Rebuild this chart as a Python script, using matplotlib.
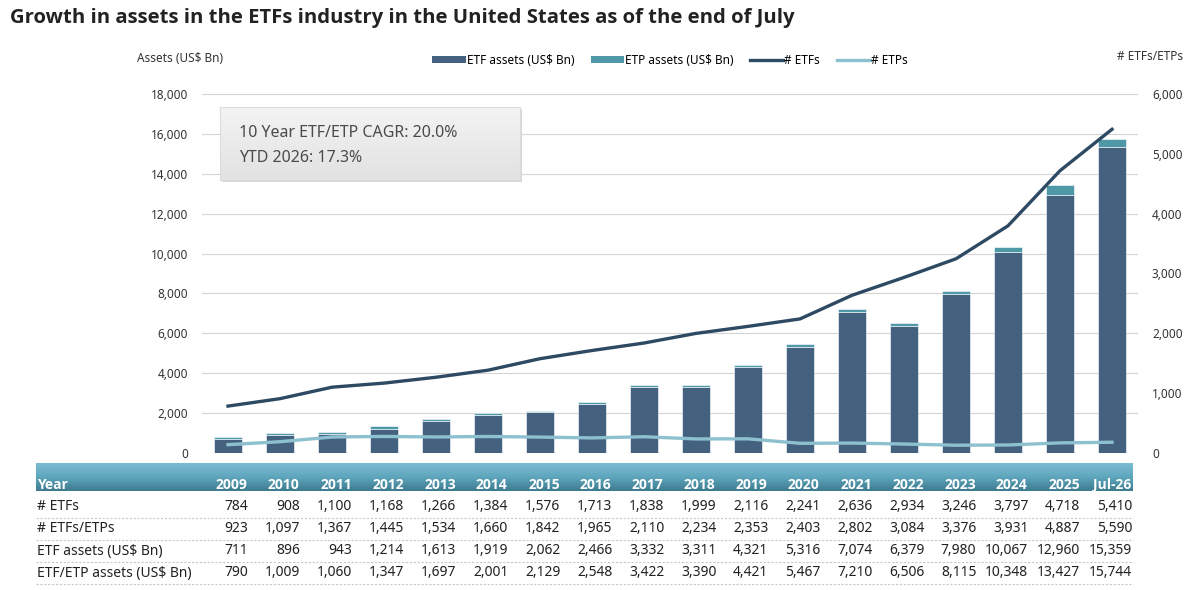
import numpy as np
import matplotlib.pyplot as plt
import matplotlib.transforms as mtransforms
from matplotlib.patches import Rectangle, Patch
from matplotlib.lines import Line2D
from matplotlib.colors import LinearSegmentedColormap

plt.rcParams['font.family'] = ['Noto Sans', 'DejaVu Sans']
BOLD = ['Open Sans', 'DejaVu Sans']

years = ['2009', '2010', '2011', '2012', '2013', '2014', '2015', '2016', '2017',
         '2018', '2019', '2020', '2021', '2022', '2023', '2024', '2025', 'Jul-26']
n_etfs = [784, 908, 1100, 1168, 1266, 1384, 1576, 1713, 1838, 1999, 2116, 2241,
          2636, 2934, 3246, 3797, 4718, 5410]
n_etfs_etps = [923, 1097, 1367, 1445, 1534, 1660, 1842, 1965, 2110, 2234, 2353, 2403,
               2802, 3084, 3376, 3931, 4887, 5590]
etf_assets = [711, 896, 943, 1214, 1613, 1919, 2062, 2466, 3332, 3311, 4321, 5316,
              7074, 6379, 7980, 10067, 12960, 15359]
etf_etp_assets = [790, 1009, 1060, 1347, 1697, 2001, 2129, 2548, 3422, 3390, 4421, 5467,
                  7210, 6506, 8115, 10348, 13427, 15744]

etp_assets = np.array(etf_etp_assets) - np.array(etf_assets)
n_etps = np.array(n_etfs_etps) - np.array(n_etfs)

c_etf = '#44627f'
c_etp = '#4f98a8'
c_line_etf = '#2e4a63'
c_line_etp = '#8ec1d0'
txt = '#222222'

W, H = 1200, 590
fig = plt.figure(figsize=(12, 5.9), dpi=100)

# plot area in pixel terms
x0, x1 = 202, 1138
y0, y1 = 453, 94
ax = fig.add_axes([x0 / W, 1 - y0 / H, (x1 - x0) / W, (y0 - y1) / H])
x = np.arange(len(years))

ax.bar(x, etf_assets, width=0.52, color=c_etf, edgecolor='white', linewidth=0.4, zorder=2)
ax.bar(x, etp_assets, bottom=etf_assets, width=0.52, color=c_etp, edgecolor='white',
       linewidth=0.4, zorder=2)
ax.set_xlim(-0.5, len(years) - 0.5)
ax.set_ylim(0, 18000)
ax.set_yticks(range(0, 18001, 2000))
ax.set_yticklabels([f'{v:,}' for v in range(0, 18001, 2000)])
ax.set_xticks([])
ax.grid(axis='y', color='#d4d4d4', linewidth=0.8, zorder=0)
ax.set_axisbelow(True)
for s in ax.spines.values():
    s.set_visible(False)
ax.tick_params(axis='y', length=0, pad=10, labelsize=8.5, labelcolor='#333333')

ax2 = ax.twinx()
ax2.plot(x, n_etfs, color=c_line_etf, linewidth=2.4, zorder=3)
ax2.plot(x, n_etps, color=c_line_etp, linewidth=2.4, zorder=3)
ax2.set_ylim(0, 6000)
ax2.set_yticks(range(0, 6001, 1000))
ax2.set_yticklabels([f'{v:,}' for v in range(0, 6001, 1000)])
for s in ax2.spines.values():
    s.set_visible(False)
ax2.tick_params(axis='y', length=0, pad=10, labelsize=8.5, labelcolor='#333333')

# text box with a soft grey gradient
shadow = Rectangle((222 / W, 1 - 182 / H), 300 / W, 73 / H, transform=fig.transFigure,
                   facecolor='#d5d5d5', edgecolor='none', zorder=4)
fig.patches.append(shadow)
bax = fig.add_axes([220 / W, 1 - 180 / H, 300 / W, 73 / H], zorder=5)
bcm = LinearSegmentedColormap.from_list('box', ['#f4f4f4', '#e2e2e2'])
bax.imshow(np.linspace(0, 1, 32).reshape(-1, 1), aspect='auto', cmap=bcm, extent=[0, 1, 0, 1])
bax.set_xticks([])
bax.set_yticks([])
for s in bax.spines.values():
    s.set_color('#dcdcdc')
    s.set_linewidth(0.8)
bax.text(0.065, 0.64, '10 Year ETF/ETP CAGR: 20.0%', transform=bax.transAxes, fontsize=11.5,
         color='#4a4a4a', va='center', ha='left')
bax.text(0.065, 0.30, 'YTD 2026: 17.3%', transform=bax.transAxes, fontsize=11.5,
         color='#4a4a4a', va='center', ha='left')

# titles and axis labels
fig.text(10 / W, 1 - 18 / H, 'Growth in assets in the ETFs industry in the United States as of the end of July',
         fontsize=14.6, fontweight='bold', family=BOLD, color=txt, va='center', ha='left')
fig.text(137 / W, 1 - 59 / H, 'Assets (US$ Bn)', fontsize=8.5, color='#333333', va='center')
fig.text(1117 / W, 1 - 56 / H, '# ETFs/ETPs', fontsize=8.5, color='#333333', va='center')

handles = [Patch(facecolor=c_etf), Patch(facecolor=c_etp),
           Line2D([], [], color=c_line_etf, linewidth=2.4),
           Line2D([], [], color=c_line_etp, linewidth=2.4)]
labels = ['ETF assets (US$ Bn)', 'ETP assets (US$ Bn)', '# ETFs', '# ETPs']
fig.legend(handles, labels, loc='center', bbox_to_anchor=(670 / W, 1 - 60 / H), ncol=4,
           frameon=False, fontsize=8.5, handlelength=2.8, handleheight=0.5,
           handletextpad=0.1, columnspacing=1.4)

# data table under the chart
tx0, tx1 = 36, 1133
hdr = fig.add_axes([tx0 / W, 1 - 491 / H, (tx1 - tx0) / W, 28 / H])
cm = LinearSegmentedColormap.from_list('hdr', ['#7cbcd0', '#5ea6bd', '#3d7b8f'])
hdr.imshow(np.linspace(0, 1, 64).reshape(-1, 1), aspect='auto', cmap=cm, extent=[0, 1, 0, 1])
hdr.set_axis_off()

trans = mtransforms.blended_transform_factory(ax.transData, fig.transFigure)
hy = 1 - 485 / H
fig.text(37 / W, hy, 'Year', fontsize=10, fontweight='bold', family=BOLD, color='white',
         va='center', zorder=10)
for i, yr in enumerate(years):
    fig.text(i + 0.38, hy, yr, transform=trans, fontsize=10, fontweight='bold', family=BOLD,
             color='white', ha='right', va='center', zorder=10)

rows = [('# ETFs', n_etfs), ('# ETFs/ETPs', n_etfs_etps),
        ('ETF assets (US$ Bn)', etf_assets), ('ETF/ETP assets (US$ Bn)', etf_etp_assets)]
for r, (name, vals) in enumerate(rows):
    yc = 1 - (507 + 22 * r) / H
    fig.text(37 / W, yc, name, fontsize=10, color=txt, va='center')
    for i, v in enumerate(vals):
        fig.text(i + 0.39, yc, f'{v:,}', transform=trans, fontsize=10, color=txt,
                 ha='right', va='center')
    ly = 1 - (518 + 22 * r) / H
    fig.add_artist(Line2D([tx0 / W, tx1 / W], [ly, ly], transform=fig.transFigure,
                          color='#c8c8c8', linewidth=0.8, linestyle=(0, (2, 1.5))))

fig.savefig('out.png', dpi=100)
